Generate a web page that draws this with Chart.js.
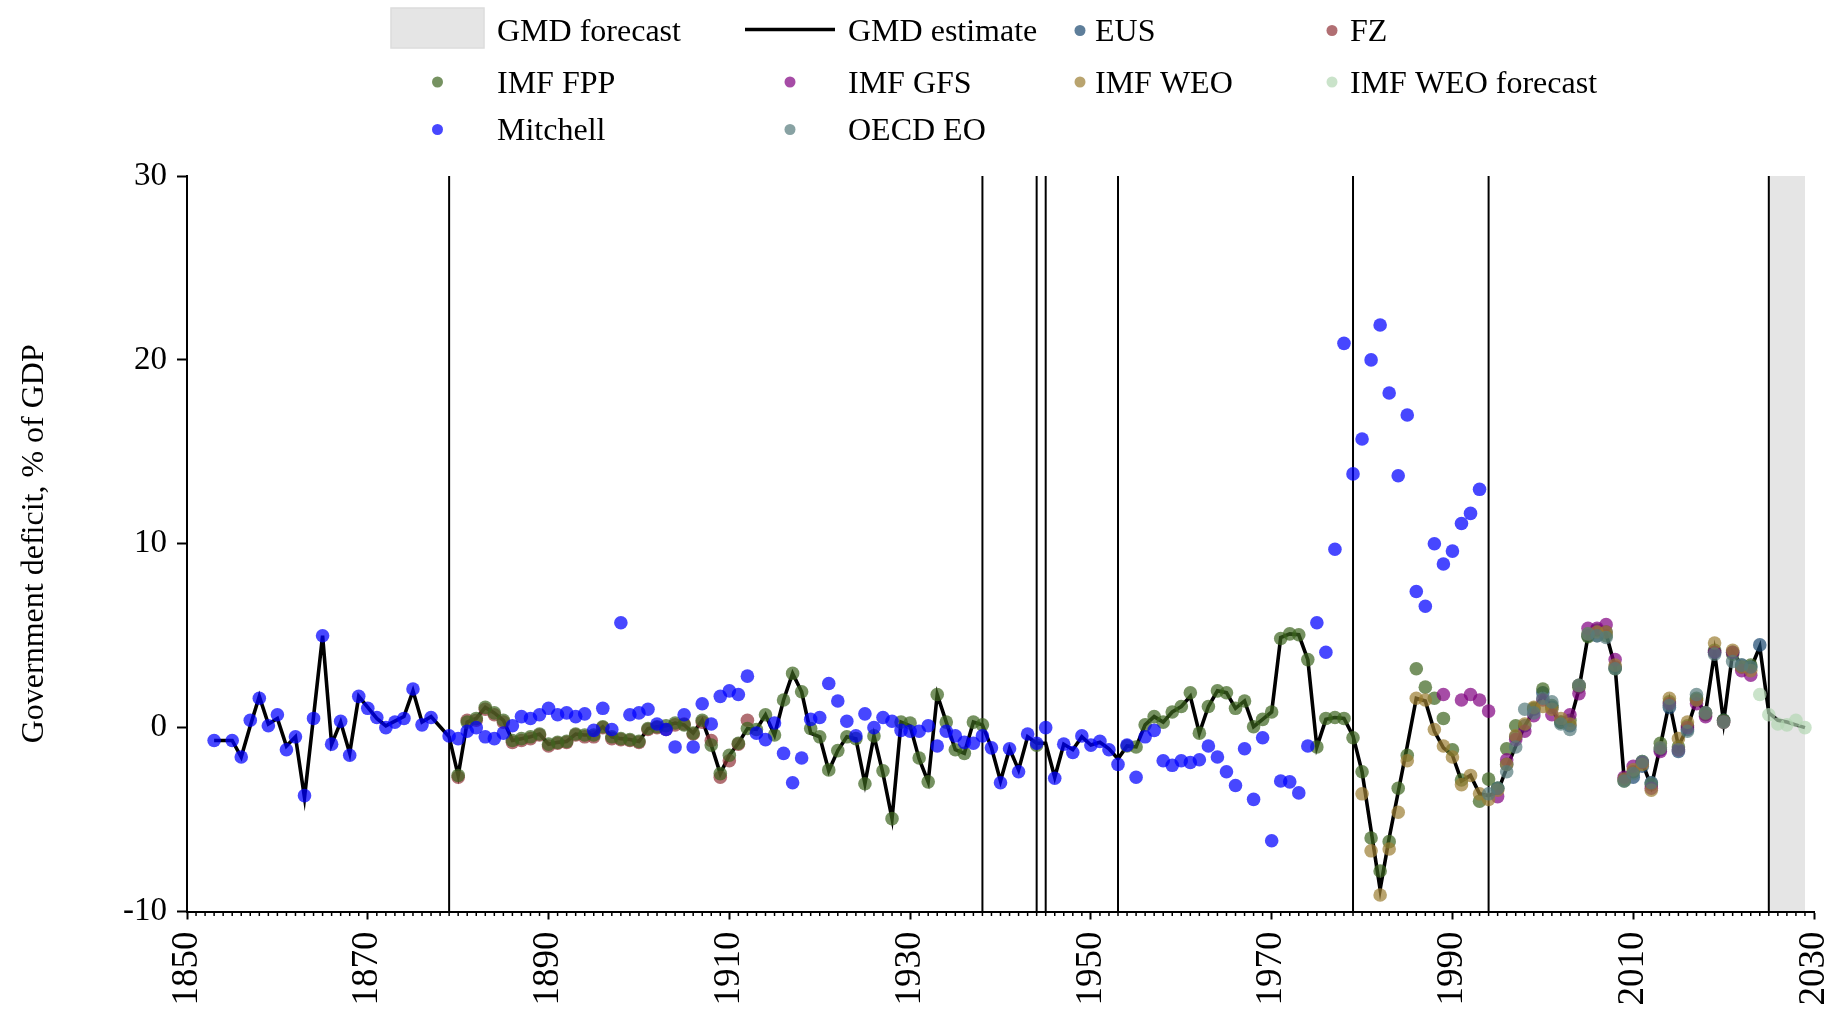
<!DOCTYPE html>
<html>
<head>
<meta charset="utf-8">
<script src="https://cdn.jsdelivr.net/npm/chart.js@4.4.1/dist/chart.umd.min.js"></script>
<style>
  html, body { margin: 0; padding: 0; background: #fff; }
  #wrap { width: 1837px; height: 1015px; position: relative; }
</style>
</head>
<body>
<div id="wrap"><canvas id="deficit-chart"></canvas></div>
<script>
// years with a break in the series, and the forecast window
const breakYears = [1879, 1938, 1944, 1945, 1953, 1979, 1994, 2025];
const forecastBand = [2025, 2029];
const firstLabelYear = 1850;
const labelEvery = 20;

// GMD estimate, 1853-2029
const gmdStart = 1853;
const gmdEstimate = [
  -0.7, -0.7, -0.7, -1.6, 0.1, 1.7, 0.2,
  0.5, -1.0, -0.5, -3.8, 0.6, 5.0, -0.9, 0.3, -1.4, 1.7,
  1.1, 0.5, 0.1, 0.35, 0.6, 2.0, 0.3, 0.6, 0.05, -0.5,
  -2.6, 0.3, 0.5, 1.1, 0.8, 0.4, -0.7, -0.6, -0.5, -0.35,
  -0.9, -0.8, -0.75, -0.35, -0.4, -0.4, 0.05, -0.5, -0.6, -0.65,
  -0.75, -0.05, 0.05, 0.1, 0.25, 0.15, -0.3, 0.4, -0.95, -2.5,
  -1.5, -0.85, -0.05, -0.1, 0.7, -0.4, 1.5, 2.95, 1.95, -0.3,
  -0.5, -2.35, -1.25, -0.5, -0.6, -3.05, -0.45, -2.5, -4.95, 0.3,
  0.1, -1.7, -2.95, 1.8, 0.3, -1.2, -1.4, 0.3, 0.15, -1.1,
  -2.9, -1.15, -2.3, -0.5, -0.85, -0.85, -2.7, -0.9, -1.2, -0.5,
  -0.95, -0.8, -1.15, -1.7, -1.0, -1.05, 0.15, 0.6, 0.3, 0.85,
  1.15, 1.7, -0.3, 1.15, 2.0, 1.9, 1.05, 1.45, 0.05, 0.45,
  0.85, 4.9, 5.1, 5.05, 3.7, -1.05, 0.45, 0.55, 0.5, -0.45,
  -2.4, -5.6, -8.8, -6.0, -3.5, -1.0, 1.6, 1.45, -0.2, -1.1,
  -1.5, -2.9, -2.6, -3.6, -3.7, -3.5, -2.2, -1.0, 0.1, 0.9,
  1.8, 1.0, 0.2, 0.3, 2.1, 5.0, 5.1, 5.1, 3.3, -2.8,
  -2.3, -1.9, -3.2, -1.0, 1.4, -1.0, 0.0, 1.5, 0.8, 4.1,
  0.3, 4.1, 3.4, 3.2, 4.4, 0.8, 0.4, 0.3, 0.15, 0.0
];

// source series (null = no observation)
const eusStart = 1995;
const eus = [
  -3.3, -2.0, -0.5, 0.1, 1.0,
  1.9, 1.1, 0.3, 0.1, 2.3, 5.0, 5.0, 5.2, 3.3, -2.8,
  -2.7, -2.1, -3.0, -1.2, 1.1, -1.3, -0.1, 1.5, 0.8, 4.1,
  0.4, 4.1, 3.4, 3.3, 4.5
];

const fzStart = 1880;
const fz = [
  -2.7, 0.4, 0.4, 1.0, 0.7, 0.3, -0.8, -0.7, -0.6, -0.4,
  -1.0, -0.85, -0.8, -0.4, -0.5, -0.5, 0.0, -0.6, -0.65, -0.7,
  -0.8, -0.1, 0.0, -0.1, 0.15, 0.2, -0.35, 0.3, -0.7, -2.7,
  -1.8, -0.9, 0.4
];

const fppStart = 1880;
const imfFpp = [
  -2.6, 0.3, 0.5, 1.1, 0.8, 0.4, -0.7, -0.6, -0.5, -0.35,
  -0.9, -0.8, -0.75, -0.35, -0.4, -0.4, 0.05, -0.5, -0.6, -0.65,
  -0.75, -0.05, 0.05, 0.1, 0.25, 0.15, -0.3, 0.4, -0.95, -2.5,
  -1.5, -0.85, -0.05, -0.1, 0.7, -0.4, 1.5, 2.95, 1.95, -0.05,
  -0.5, -2.3, -1.25, -0.5, -0.6, -3.05, -0.45, -2.35, -4.95, 0.3,
  0.25, -1.65, -2.95, 1.8, 0.3, -1.2, -1.4, 0.3, 0.15, null,
  null, null, null, null, -0.95, null, null, null, null, null,
  null, null, null, null, -1.0, -1.05, 0.15, 0.6, 0.3, 0.85,
  1.15, 1.9, -0.3, 1.15, 2.0, 1.9, 1.05, 1.45, 0.05, 0.45,
  0.85, 4.85, 5.1, 5.05, 3.7, -1.05, 0.5, 0.55, 0.5, -0.55,
  -2.4, -6.0, -7.8, -6.2, -3.3, -1.5, 3.2, 2.2, 1.6, 0.5,
  -1.2, -2.85, null, -4.0, -2.8, -3.3, -1.15, 0.1, null, 1.05,
  2.1, 1.2, 0.3, 0.4, 2.2, 4.95, 5.3, 5.0, 3.2, -2.9,
  -2.4, -1.85, -3.1, -0.85, 1.4, -1.05, 0.1, 1.6, 0.7, 4.2,
  0.4, 4.0, 3.3, 3.4
];

const gfsStart = 1989;
const imfGfs = [
  1.8,
  null, 1.5, 1.8, 1.5, 0.9, -3.75, -1.75, -0.65, -0.2, 0.65,
  1.5, 0.7, null, 0.7, 1.85, 5.4, 5.4, 5.6, 3.7, -2.7,
  -2.1, -1.9, -3.3, -1.3, 1.3, -1.2, 0.0, 1.3, 0.6, 4.1,
  0.3, 4.1, 3.1, 2.85
];

const weoStart = 1980;
const imfWeo = [
  -3.6, -6.7, -9.1, -6.6, -4.6, -1.8, 1.6, 1.5, -0.1, -1.0,
  -1.6, -3.1, -2.6, -3.6, -3.9, -3.4, -2.0, -0.45, 0.2, 1.1,
  1.15, 1.0, 0.5, 0.2, 2.3, 5.1, 5.2, 5.2, 3.4, -2.8,
  -2.3, -2.0, -3.4, -1.1, 1.6, -0.6, 0.3, 1.5, 0.8, 4.6,
  0.3, 4.2, 3.3, 3.1
];

const weoForecastStart = 2024;
const imfWeoForecast = [1.8, 0.7, 0.2, 0.15, 0.4, 0.0];

const mitchellStart = 1853;
const mitchell = [
  -0.7, null, -0.7, -1.6, 0.4, 1.6, 0.1,
  0.7, -1.2, -0.5, -3.7, 0.5, 5.0, -0.9, 0.35, -1.5, 1.7,
  1.05, 0.55, 0.0, 0.3, 0.5, 2.1, 0.15, 0.55, null, -0.45,
  -0.6, -0.2, 0.0, -0.5, -0.6, -0.3, 0.1, 0.6, 0.5, 0.7,
  1.05, 0.7, 0.8, 0.6, 0.75, -0.15, 1.05, -0.1, 5.7, 0.7,
  0.8, 1.0, 0.2, -0.1, -1.05, 0.7, -1.05, 1.3, 0.2, 1.7,
  2.0, 1.8, 2.8, -0.3, -0.65, 0.25, -1.4, -3.0, -1.65, 0.45,
  0.55, 2.4, 1.45, 0.35, -0.45, 0.75, 0.0, 0.55, 0.35, -0.15,
  -0.2, -0.2, 0.1, -1.0, -0.2, -0.45, -0.8, -0.85, -0.45, -1.1,
  -3.0, -1.15, -2.4, -0.35, -0.85, 0.0, -2.75, -0.9, -1.35, -0.45,
  -0.95, -0.75, -1.2, -2.0, -0.95, -2.7, -0.5, -0.15, -1.8, -2.05,
  -1.8, -1.9, -1.75, -1.0, -1.6, -2.4, -3.15, -1.15, -3.9, -0.55,
  -6.15, -2.9, -2.95, -3.55, -1.0, 5.7, 4.1, 9.7, 20.9, 13.8,
  15.7, 20.0, 21.9, 18.2, 13.7, 17.0, 7.4, 6.6, 10.0, 8.9,
  9.6, 11.1, 11.65, 12.96
];

const oecdStart = 1994;
const oecdEo = [
  -3.6, -3.3, -2.4, -1.05, 1.0, 0.8,
  1.6, 1.4, 0.2, -0.1, 2.3, 5.1, 5.0, 4.9, 3.2, -2.9,
  -2.5, -1.85, -3.0, -1.1, 1.2, -1.2, -0.2, 1.8, 0.8, 4.0,
  0.3, 3.6, 3.4, 3.3
];

const serif = "'Liberation Serif', 'Times New Roman', serif";

const toPoints = (start, values) =>
  values
    .map((v, i) => (v === null ? null : { x: start + i, y: v }))
    .filter((p) => p !== null);

const isMajor = (v) => (v - firstLabelYear) % labelEvery === 0;

// legend order; later sources are drawn on top
const sources = [
  { label: "EUS", start: eusStart, values: eus, color: "rgba(26, 71, 111, 0.7)" },
  { label: "FZ", start: fzStart, values: fz, color: "rgba(144, 50, 55, 0.7)" },
  { label: "IMF FPP", start: fppStart, values: imfFpp, color: "rgba(60, 100, 30, 0.7)" },
  { label: "IMF GFS", start: gfsStart, values: imfGfs, color: "rgba(128, 0, 128, 0.7)" },
  { label: "IMF WEO", start: weoStart, values: imfWeo, color: "rgba(155, 125, 50, 0.7)" },
  { label: "IMF WEO forecast", start: weoForecastStart, values: imfWeoForecast, color: "rgba(180, 215, 180, 0.7)" },
  { label: "Mitchell", start: mitchellStart, values: mitchell, color: "rgba(0, 0, 255, 0.72)" },
  { label: "OECD EO", start: oecdStart, values: oecdEo, color: "rgba(85, 122, 124, 0.7)" },
];

const datasets = [
  {
    label: "GMD estimate",
    data: toPoints(gmdStart, gmdEstimate),
    showLine: true,
    borderColor: "#000",
    borderWidth: 3.6,
    pointRadius: 0,
    order: 20,
  },
  ...sources.map((s, i) => ({
    label: s.label,
    data: toPoints(s.start, s.values),
    backgroundColor: s.color,
    borderWidth: 0,
    pointRadius: 6.8,
    order: sources.length + 1 - i,
  })),
];

const legendItems = [
  { label: "GMD forecast", kind: "band" },
  { label: "GMD estimate", kind: "line" },
  ...sources.map((s) => ({ label: s.label, kind: "dot", color: s.color })),
];

const backdrop = {
  id: "backdrop",
  beforeDraw(chart) {
    const { ctx, chartArea, scales } = chart;
    const x = scales.x;
    ctx.save();
    const x0 = x.getPixelForValue(forecastBand[0]);
    const x1 = x.getPixelForValue(forecastBand[1]);
    ctx.fillStyle = "#e5e5e5";
    ctx.fillRect(x0, chartArea.top, x1 - x0, chartArea.bottom - chartArea.top);
    ctx.strokeStyle = "#000";
    ctx.lineWidth = 2;
    breakYears.forEach((yr) => {
      const px = x.getPixelForValue(yr);
      ctx.beginPath();
      ctx.moveTo(px, chartArea.top);
      ctx.lineTo(px, chartArea.bottom);
      ctx.stroke();
    });
    ctx.restore();
  },
  afterDraw(chart) {
    const { ctx, scales } = chart;
    const x = scales.x;
    ctx.save();
    // minor year ticks
    ctx.strokeStyle = "#000";
    ctx.lineWidth = 1.5;
    x.ticks.forEach((t) => {
      if (isMajor(t.value)) return;
      const px = x.getPixelForValue(t.value);
      ctx.beginPath();
      ctx.moveTo(px, x.top);
      ctx.lineTo(px, x.top + 4.5);
      ctx.stroke();
    });

    // legend, 4 columns
    const symbolX = [437.5, 790, 1080, 1332];
    const textX = [497, 848, 1095, 1350];
    const rowY = [41, 92.5, 140];
    ctx.font = "32px " + serif;
    ctx.textBaseline = "alphabetic";
    legendItems.forEach((item, i) => {
      const col = i % 4;
      const y = rowY[Math.floor(i / 4)];
      const cx = symbolX[col];
      if (item.kind === "band") {
        ctx.fillStyle = "#e5e5e5";
        ctx.fillRect(cx - 46.5, y - 33, 93, 40);
        ctx.strokeStyle = "#dcdcdc";
        ctx.lineWidth = 1.5;
        ctx.strokeRect(cx - 46.5, y - 33, 93, 40);
      } else if (item.kind === "line") {
        ctx.strokeStyle = "#000";
        ctx.lineWidth = 3.5;
        ctx.beginPath();
        ctx.moveTo(cx - 45, y - 11.5);
        ctx.lineTo(cx + 45, y - 11.5);
        ctx.stroke();
      } else {
        ctx.fillStyle = item.color;
        ctx.beginPath();
        ctx.arc(cx, y - 10.5, 5.5, 0, Math.PI * 2);
        ctx.fill();
      }
      ctx.fillStyle = "#000";
      ctx.fillText(item.label, textX[col], y);
    });
    ctx.restore();
  },
};

new Chart(document.getElementById("deficit-chart"), {
  type: "scatter",
  data: { datasets },
  options: {
    responsive: true,
    maintainAspectRatio: false,
    animation: false,
    devicePixelRatio: 1,
    layout: { padding: { top: 176, right: 23, bottom: 0, left: 0 } },
    plugins: {
      legend: { display: false },
      tooltip: { enabled: false },
    },
    scales: {
      x: {
        type: "linear",
        min: 1850,
        max: 2030,
        afterFit(scale) {
          scale.height = 103.5;
          scale.paddingLeft = 0;
          scale.paddingRight = 0;
        },
        border: { display: true, color: "#000", width: 2 },
        grid: {
          drawOnChartArea: false,
          tickLength: 8,
          tickWidth: 2,
          tickColor: (c) => (c.tick && isMajor(c.tick.value) ? "#000" : "rgba(0,0,0,0)"),
        },
        ticks: {
          stepSize: 1,
          maxTicksLimit: 200,
          autoSkip: false,
          minRotation: 90,
          maxRotation: 90,
          padding: 12,
          color: "#000",
          font: { family: serif, size: 37 },
          callback: (v) => (isMajor(v) ? String(v) : ""),
        },
      },
      y: {
        min: -10,
        max: 30,
        afterFit(scale) {
          scale.width = 187;
        },
        border: { display: true, color: "#000", width: 2 },
        grid: { drawOnChartArea: false, tickLength: 10, tickWidth: 2, tickColor: "#000" },
        ticks: {
          stepSize: 10,
          padding: 10,
          color: "#000",
          font: { family: serif, size: 33 },
        },
        title: {
          display: true,
          text: "Government deficit, % of GDP",
          color: "#000",
          font: { family: serif, size: 32 },
          padding: { top: 15, bottom: 0 },
        },
      },
    },
  },
  plugins: [backdrop],
});
</script>
</body>
</html>
